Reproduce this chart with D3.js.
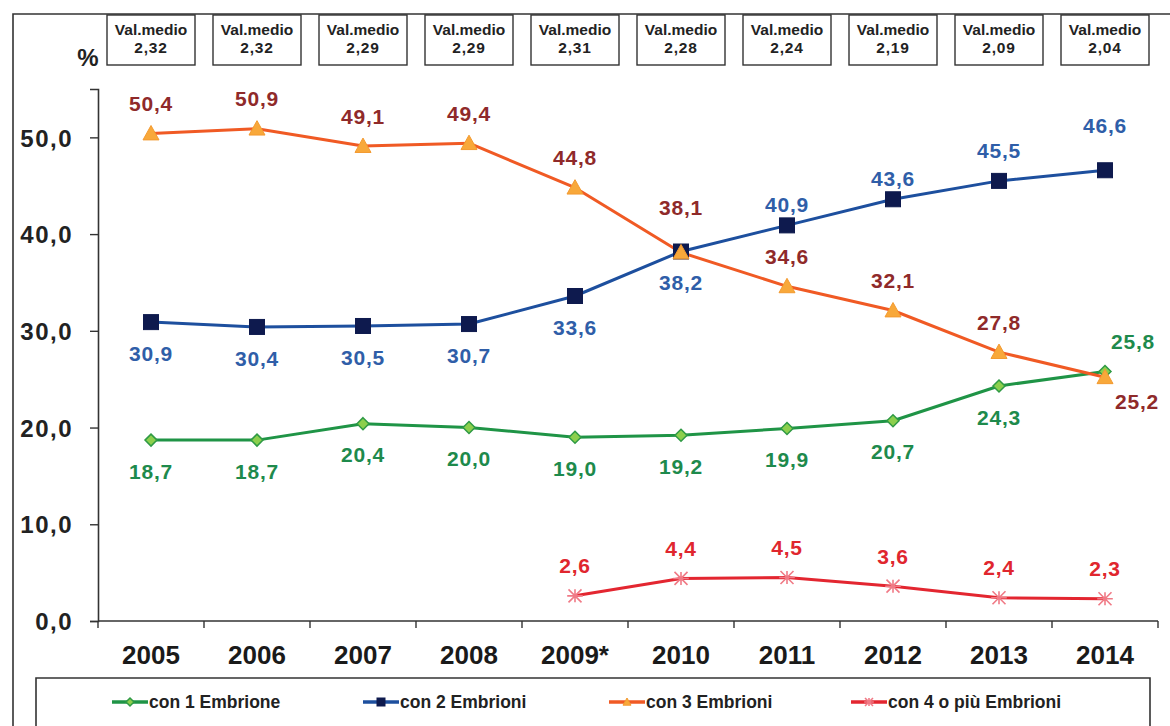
<!DOCTYPE html>
<html>
<head>
<meta charset="utf-8">
<script src="https://cdn.jsdelivr.net/npm/d3@7"></script>
<style>
  html, body { margin: 0; padding: 0; background: #fff; }
  svg { display: block; font-family: "Liberation Sans", Arial, sans-serif; }
</style>
</head>
<body>
<svg id="chart" width="1170" height="726"></svg>
<script>
// Years on the x axis
const years = ["2005", "2006", "2007", "2008", "2009*", "2010", "2011", "2012", "2013", "2014"];
// Average number of embryos transferred per year
const avgValues = ["2,32", "2,32", "2,29", "2,29", "2,31", "2,28", "2,24", "2,19", "2,09", "2,04"];
// Share of transfers (%) by number of embryos
const oneEmbryo   = [18.7, 18.7, 20.4, 20.0, 19.0, 19.2, 19.9, 20.7, 24.3, 25.8];
const twoEmbryos  = [30.9, 30.4, 30.5, 30.7, 33.6, 38.2, 40.9, 43.6, 45.5, 46.6];
const threeEmbryos = [50.4, 50.9, 49.1, 49.4, 44.8, 38.1, 34.6, 32.1, 27.8, 25.2];
const fourPlus    = [null, null, null, null, 2.6, 4.4, 4.5, 3.6, 2.4, 2.3];
// Y axis ticks
const yTicks = [0, 10, 20, 30, 40, 50];
const seriesNames = ["con 1 Embrione", "con 2 Embrioni", "con 3 Embrioni", "con 4 o più Embrioni"];
// Which side of the point each value label sits on
// a = above, at = above (tight), ah = above (high), b = below, r = right-below, ra = right-above
const labelSide1 = ["b", "b", "b", "b", "b", "b", "b", "b", "b", "ra"];
const labelSide2 = ["b", "b", "b", "b", "b", "b", "at", "at", "a", "ah"];
const labelSide3 = ["a", "a", "a", "a", "a", "ah", "a", "a", "a", "r"];
const labelSide4 = ["a", "a", "a", "a", "a", "a", "a", "a", "a", "a"];

const fmt = v => v.toFixed(1).replace(".", ",");

const svg = d3.select("#chart");

const x = d3.scaleBand().domain(years).range([98, 1158]);
const y = d3.scaleLinear().domain([0, 55]).range([621, 89]);
const cx = d => x(d) + x.bandwidth() / 2;

// Outer frame (left and top edges)
svg.append("path")
  .attr("d", "M13,726 L13,14 L1170,14")
  .attr("fill", "none").attr("stroke", "#333").attr("stroke-width", 1.6);

// "%" unit label
svg.append("text").attr("x", 88).attr("y", 66)
  .attr("text-anchor", "middle").attr("font-size", 24).attr("font-weight", "bold")
  .attr("fill", "#222").text("%");

// Average value boxes above each year
const boxW = 88;
const boxes = svg.append("g").selectAll("g").data(years).join("g")
  .attr("transform", d => `translate(${cx(d) - boxW / 2},15)`);
boxes.append("rect").attr("width", boxW).attr("height", 50)
  .attr("fill", "#fff").attr("stroke", "#333").attr("stroke-width", 1.4);
boxes.append("text").attr("x", boxW / 2).attr("y", 20)
  .attr("text-anchor", "middle").attr("font-size", 15.5).attr("font-weight", "bold")
  .attr("fill", "#222").text("Val.medio");
boxes.append("text").attr("x", boxW / 2).attr("y", 38)
  .attr("text-anchor", "middle").attr("font-size", 15.5).attr("font-weight", "bold")
  .attr("fill", "#222").attr("letter-spacing", 0.8).text((d, i) => avgValues[i]);

// Y axis
const yAxis = svg.append("g").attr("transform", "translate(98,0)")
  .call(d3.axisLeft(y).tickValues(yTicks).tickSize(8).tickFormat(fmt));
yAxis.select(".domain").attr("stroke", "#333").attr("stroke-width", 1.6);
yAxis.selectAll(".tick line").attr("stroke", "#333").attr("stroke-width", 1.4);
yAxis.selectAll(".tick text").attr("x", -25).attr("dy", "0.36em")
  .attr("font-family", "Liberation Sans, Arial, sans-serif")
  .attr("font-size", 24).attr("font-weight", "bold").attr("fill", "#222")
  .attr("letter-spacing", 1.5);

// X axis: line, tick marks at band edges, year labels
const xAxis = svg.append("g");
xAxis.append("line").attr("x1", x.range()[0]).attr("x2", x.range()[1])
  .attr("y1", y(0)).attr("y2", y(0)).attr("stroke", "#333").attr("stroke-width", 1.6);
const edges = years.map(d => x(d)).concat([x.range()[1]]);
xAxis.selectAll("line.tk").data(edges).join("line").attr("class", "tk")
  .attr("x1", d => d).attr("x2", d => d).attr("y1", y(0)).attr("y2", y(0) + 7)
  .attr("stroke", "#333").attr("stroke-width", 1.4);
xAxis.selectAll("text").data(years).join("text")
  .attr("x", d => cx(d)).attr("y", 664)
  .attr("text-anchor", "middle").attr("font-size", 26).attr("font-weight", "bold")
  .attr("fill", "#1a1a1a").text(d => d);

// Series definitions
const series = [
  { name: seriesNames[0], values: oneEmbryo, sides: labelSide1, line: "#1f9446", label: "#1e8a4c", marker: "diamond", mfill: "#8ccf4d", mstroke: "#2f9a45" },
  { name: seriesNames[1], values: twoEmbryos, sides: labelSide2, line: "#1d4f9e", label: "#2f5ea8", marker: "square", mfill: "#0e1a4e", mstroke: "#0e1a4e" },
  { name: seriesNames[2], values: threeEmbryos, sides: labelSide3, line: "#f05a24", label: "#8f2a2a", marker: "triangle", mfill: "#f8a83a", mstroke: "#f39a30" },
  { name: seriesNames[3], values: fourPlus, sides: labelSide4, line: "#e32630", label: "#e0262e", marker: "asterisk", mfill: "none", mstroke: "#f07a86" }
];

function drawMarker(g, type, fill, stroke, s) {
  if (type === "diamond") {
    g.append("path").attr("d", `M0,${-s} L${s},0 L0,${s} L${-s},0 Z`)
      .attr("fill", fill).attr("stroke", stroke).attr("stroke-width", 1.5);
  } else if (type === "square") {
    g.append("rect").attr("x", -s).attr("y", -s).attr("width", 2 * s).attr("height", 2 * s)
      .attr("fill", fill).attr("stroke", stroke);
  } else if (type === "triangle") {
    g.append("path").attr("d", `M0,${-s} L${s},${s * 0.8} L${-s},${s * 0.8} Z`)
      .attr("fill", fill).attr("stroke", stroke).attr("stroke-width", 1);
  } else if (type === "asterisk") {
    g.append("path")
      .attr("d", `M${-s},${-s} L${s},${s} M${-s},${s} L${s},${-s} M${-s * 1.2},0 L${s * 1.2},0 M0,${-s} L0,${s}`)
      .attr("stroke", stroke).attr("stroke-width", 1.6).attr("fill", "none");
  }
}

const markerSize = { diamond: 6, square: 7.5, triangle: 8, asterisk: 6.5 };

series.forEach(s => {
  const pts = years.map((yr, i) => ({ yr, v: s.values[i], side: s.sides[i] })).filter(p => p.v !== null);
  const line = d3.line().x(p => cx(p.yr)).y(p => y(p.v));
  svg.append("path").datum(pts).attr("d", line)
    .attr("fill", "none").attr("stroke", s.line).attr("stroke-width", 3)
    .attr("stroke-linejoin", "round");
  s.pts = pts;
});

// Markers drawn after all lines so they sit on top
series.forEach(s => {
  s.pts.forEach(p => {
    const g = svg.append("g").attr("transform", `translate(${cx(p.yr)},${y(p.v)})`);
    drawMarker(g, s.marker, s.mfill, s.mstroke, markerSize[s.marker]);
  });
});

// Value labels
const labelOffset = {
  a: [0, -30], at: [0, -21], ah: [0, -45], b: [0, 31], r: [32, 24], ra: [28, -30]
};
series.forEach(s => {
  s.pts.forEach(p => {
    const [dx, dy] = labelOffset[p.side];
    svg.append("text").attr("x", cx(p.yr) + dx).attr("y", y(p.v) + dy)
      .attr("dy", "0.36em").attr("text-anchor", "middle")
      .attr("font-size", 21).attr("font-weight", "bold").attr("fill", s.label)
      .attr("letter-spacing", 0.8)
      .text(fmt(p.v));
  });
});

// Legend box
svg.append("path").attr("d", "M36,726 L36,678 L1150,678 L1150,726")
  .attr("fill", "none").attr("stroke", "#333").attr("stroke-width", 1.6);
const legendX = [148, 399, 645, 887];
series.forEach((s, i) => {
  const lx = legendX[i];
  svg.append("line").attr("x1", lx - 36).attr("x2", lx).attr("y1", 702).attr("y2", 702)
    .attr("stroke", s.line).attr("stroke-width", 3.5);
  const g = svg.append("g").attr("transform", `translate(${lx - 18},702)`);
  drawMarker(g, s.marker, s.mfill, s.mstroke, 4);
  svg.append("text").attr("x", lx + 1).attr("y", 702).attr("dy", "0.36em")
    .attr("font-size", 17.5).attr("font-weight", "bold").attr("fill", "#222")
    .text(s.name);
});
</script>
</body>
</html>
